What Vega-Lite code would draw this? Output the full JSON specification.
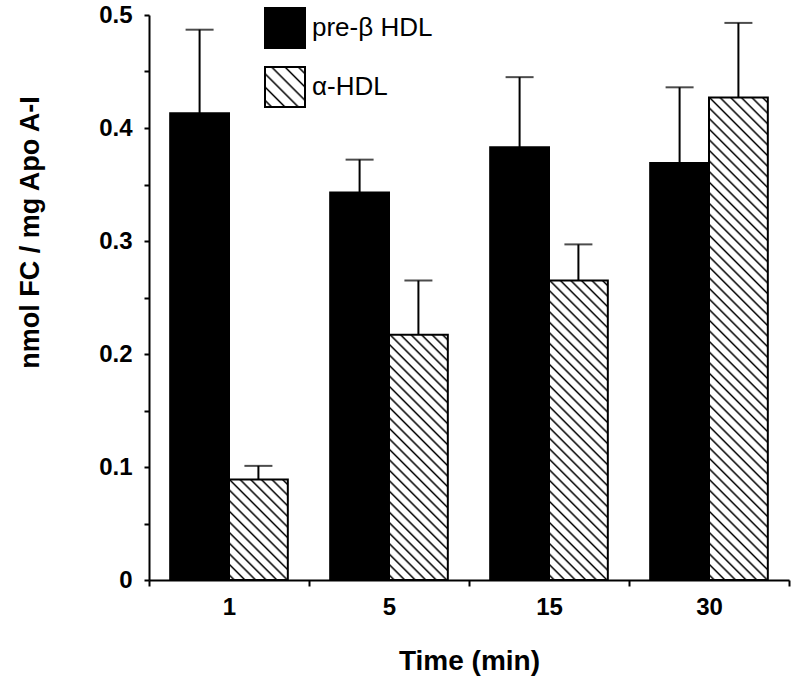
{
  "$schema": "https://vega.github.io/schema/vega-lite/v6.json",
  "width": 640,
  "height": 565,
  "autosize": "none",
  "padding": {"left": 149, "top": 15, "right": 8, "bottom": 113},
  "background": "white",
  "config": {
    "view": {"stroke": null},
    "font": "Liberation Sans",
    "axis": {"domainColor": "black", "tickColor": "black", "labelColor": "black", "titleColor": "black", "grid": false, "labelFont": "Liberation Sans", "titleFont": "Liberation Sans"}
  },
  "data": {
    "values": [
      {"time": "1", "group": "pre-β HDL", "value": 0.413, "upper": 0.487},
      {"time": "1", "group": "α-HDL", "value": 0.089, "upper": 0.101},
      {"time": "5", "group": "pre-β HDL", "value": 0.343, "upper": 0.372},
      {"time": "5", "group": "α-HDL", "value": 0.217, "upper": 0.265},
      {"time": "15", "group": "pre-β HDL", "value": 0.383, "upper": 0.445},
      {"time": "15", "group": "α-HDL", "value": 0.265, "upper": 0.297},
      {"time": "30", "group": "pre-β HDL", "value": 0.369, "upper": 0.436},
      {"time": "30", "group": "α-HDL", "value": 0.427, "upper": 0.493}
    ]
  },
  "encoding": {
    "x": {
      "field": "time", "type": "ordinal", "sort": ["1", "5", "15", "30"],
      "scale": {"paddingInner": 0, "paddingOuter": 0},
      "axis": {"title": "Time (min)", "labelAngle": 0, "labelFontSize": 24, "labelFontWeight": "bold", "titleFontSize": 28, "titleFontWeight": "bold", "tickBand": "extent", "tickSize": 6, "tickWidth": 2, "domainWidth": 2, "labelPadding": 9, "titlePadding": 28}
    },
    "xOffset": {"field": "group", "sort": ["pre-β HDL", "α-HDL"], "scale": {"paddingInner": 0, "paddingOuter": 0.36}}
  },
  "layer": [
    {
      "mark": {"type": "bar", "stroke": "black", "strokeWidth": 2},
      "encoding": {
        "y": {
          "field": "value", "type": "quantitative",
          "scale": {"domain": [0, 0.5], "nice": false, "zero": true},
          "axis": {"title": "nmol FC / mg Apo A-I", "values": [0, 0.05, 0.1, 0.15, 0.2, 0.25, 0.3, 0.35, 0.4, 0.45, 0.5], "labelExpr": "round(datum.value*100) % 10 == 0 ? (datum.value == 0 ? '0' : format(datum.value, '.1f')) : ''", "labelOverlap": false, "tickSize": 5, "tickWidth": 2, "domainWidth": 2, "labelFontSize": 24, "labelFontWeight": "bold", "labelPadding": 12, "titleFontSize": 27, "titleFontWeight": "bold", "titleX": -119, "titleY": 217, "titleAngle": -90, "titleAlign": "center", "titleBaseline": "middle"}
        },
        "fill": {
          "condition": [
            {"test": "datum.group == 'α-HDL' && datum.time == '1'", "value": {"gradient": "linear", "x1": 0, "y1": 1, "x2": 0.6903, "y2": -0.1811, "stops": [
              {"offset": 0.02, "color": "#fff"}, {"offset": 0.0333, "color": "#000"}, {"offset": 0.0466, "color": "#fff"},
              {"offset": 0.0867, "color": "#fff"}, {"offset": 0.1, "color": "#000"}, {"offset": 0.1133, "color": "#fff"},
              {"offset": 0.1534, "color": "#fff"}, {"offset": 0.1667, "color": "#000"}, {"offset": 0.18, "color": "#fff"},
              {"offset": 0.22, "color": "#fff"}, {"offset": 0.2333, "color": "#000"}, {"offset": 0.2466, "color": "#fff"},
              {"offset": 0.2867, "color": "#fff"}, {"offset": 0.3, "color": "#000"}, {"offset": 0.3133, "color": "#fff"},
              {"offset": 0.3534, "color": "#fff"}, {"offset": 0.3667, "color": "#000"}, {"offset": 0.38, "color": "#fff"},
              {"offset": 0.42, "color": "#fff"}, {"offset": 0.4333, "color": "#000"}, {"offset": 0.4466, "color": "#fff"},
              {"offset": 0.4867, "color": "#fff"}, {"offset": 0.5, "color": "#000"}, {"offset": 0.5133, "color": "#fff"},
              {"offset": 0.5534, "color": "#fff"}, {"offset": 0.5667, "color": "#000"}, {"offset": 0.58, "color": "#fff"},
              {"offset": 0.62, "color": "#fff"}, {"offset": 0.6333, "color": "#000"}, {"offset": 0.6466, "color": "#fff"},
              {"offset": 0.6867, "color": "#fff"}, {"offset": 0.7, "color": "#000"}, {"offset": 0.7133, "color": "#fff"},
              {"offset": 0.7534, "color": "#fff"}, {"offset": 0.7667, "color": "#000"}, {"offset": 0.78, "color": "#fff"},
              {"offset": 0.82, "color": "#fff"}, {"offset": 0.8333, "color": "#000"}, {"offset": 0.8466, "color": "#fff"},
              {"offset": 0.8867, "color": "#fff"}, {"offset": 0.9, "color": "#000"}, {"offset": 0.9133, "color": "#fff"},
              {"offset": 0.9534, "color": "#fff"}, {"offset": 0.9667, "color": "#000"}, {"offset": 0.98, "color": "#fff"}
            ]}},
            {"test": "datum.group == 'α-HDL' && datum.time == '5'", "value": {"gradient": "linear", "x1": 0, "y1": 1, "x2": 0.28115, "y2": -0.1724, "stops": [
              {"offset": 0.0102, "color": "#fff"}, {"offset": 0.0172, "color": "#000"}, {"offset": 0.0242, "color": "#fff"},
              {"offset": 0.0447, "color": "#fff"}, {"offset": 0.0517, "color": "#000"}, {"offset": 0.0587, "color": "#fff"},
              {"offset": 0.0792, "color": "#fff"}, {"offset": 0.0862, "color": "#000"}, {"offset": 0.0932, "color": "#fff"},
              {"offset": 0.1137, "color": "#fff"}, {"offset": 0.1207, "color": "#000"}, {"offset": 0.1277, "color": "#fff"},
              {"offset": 0.1482, "color": "#fff"}, {"offset": 0.1552, "color": "#000"}, {"offset": 0.1622, "color": "#fff"},
              {"offset": 0.1827, "color": "#fff"}, {"offset": 0.1897, "color": "#000"}, {"offset": 0.1967, "color": "#fff"},
              {"offset": 0.2171, "color": "#fff"}, {"offset": 0.2241, "color": "#000"}, {"offset": 0.2311, "color": "#fff"},
              {"offset": 0.2516, "color": "#fff"}, {"offset": 0.2586, "color": "#000"}, {"offset": 0.2656, "color": "#fff"},
              {"offset": 0.2861, "color": "#fff"}, {"offset": 0.2931, "color": "#000"}, {"offset": 0.3001, "color": "#fff"},
              {"offset": 0.3206, "color": "#fff"}, {"offset": 0.3276, "color": "#000"}, {"offset": 0.3346, "color": "#fff"},
              {"offset": 0.3551, "color": "#fff"}, {"offset": 0.3621, "color": "#000"}, {"offset": 0.3691, "color": "#fff"},
              {"offset": 0.3896, "color": "#fff"}, {"offset": 0.3966, "color": "#000"}, {"offset": 0.4036, "color": "#fff"},
              {"offset": 0.424, "color": "#fff"}, {"offset": 0.431, "color": "#000"}, {"offset": 0.438, "color": "#fff"},
              {"offset": 0.4585, "color": "#fff"}, {"offset": 0.4655, "color": "#000"}, {"offset": 0.4725, "color": "#fff"},
              {"offset": 0.493, "color": "#fff"}, {"offset": 0.5, "color": "#000"}, {"offset": 0.507, "color": "#fff"},
              {"offset": 0.5275, "color": "#fff"}, {"offset": 0.5345, "color": "#000"}, {"offset": 0.5415, "color": "#fff"},
              {"offset": 0.562, "color": "#fff"}, {"offset": 0.569, "color": "#000"}, {"offset": 0.576, "color": "#fff"},
              {"offset": 0.5965, "color": "#fff"}, {"offset": 0.6035, "color": "#000"}, {"offset": 0.6105, "color": "#fff"},
              {"offset": 0.6309, "color": "#fff"}, {"offset": 0.6379, "color": "#000"}, {"offset": 0.6449, "color": "#fff"},
              {"offset": 0.6654, "color": "#fff"}, {"offset": 0.6724, "color": "#000"}, {"offset": 0.6794, "color": "#fff"},
              {"offset": 0.6999, "color": "#fff"}, {"offset": 0.7069, "color": "#000"}, {"offset": 0.7139, "color": "#fff"},
              {"offset": 0.7344, "color": "#fff"}, {"offset": 0.7414, "color": "#000"}, {"offset": 0.7484, "color": "#fff"},
              {"offset": 0.7689, "color": "#fff"}, {"offset": 0.7759, "color": "#000"}, {"offset": 0.7829, "color": "#fff"},
              {"offset": 0.8033, "color": "#fff"}, {"offset": 0.8103, "color": "#000"}, {"offset": 0.8173, "color": "#fff"},
              {"offset": 0.8378, "color": "#fff"}, {"offset": 0.8448, "color": "#000"}, {"offset": 0.8518, "color": "#fff"},
              {"offset": 0.8723, "color": "#fff"}, {"offset": 0.8793, "color": "#000"}, {"offset": 0.8863, "color": "#fff"},
              {"offset": 0.9068, "color": "#fff"}, {"offset": 0.9138, "color": "#000"}, {"offset": 0.9208, "color": "#fff"},
              {"offset": 0.9413, "color": "#fff"}, {"offset": 0.9483, "color": "#000"}, {"offset": 0.9553, "color": "#fff"},
              {"offset": 0.9758, "color": "#fff"}, {"offset": 0.9828, "color": "#000"}, {"offset": 0.9898, "color": "#fff"}
            ]}},
            {"test": "datum.group == 'α-HDL' && datum.time == '15'", "value": {"gradient": "linear", "x1": 0, "y1": 1, "x2": 0.22616, "y2": -0.15194, "stops": [
              {"offset": 0.0088, "color": "#fff"}, {"offset": 0.0147, "color": "#000"}, {"offset": 0.0206, "color": "#fff"},
              {"offset": 0.0382, "color": "#fff"}, {"offset": 0.0441, "color": "#000"}, {"offset": 0.05, "color": "#fff"},
              {"offset": 0.0676, "color": "#fff"}, {"offset": 0.0735, "color": "#000"}, {"offset": 0.0794, "color": "#fff"},
              {"offset": 0.097, "color": "#fff"}, {"offset": 0.1029, "color": "#000"}, {"offset": 0.1088, "color": "#fff"},
              {"offset": 0.1264, "color": "#fff"}, {"offset": 0.1323, "color": "#000"}, {"offset": 0.1382, "color": "#fff"},
              {"offset": 0.1558, "color": "#fff"}, {"offset": 0.1617, "color": "#000"}, {"offset": 0.1676, "color": "#fff"},
              {"offset": 0.1853, "color": "#fff"}, {"offset": 0.1912, "color": "#000"}, {"offset": 0.1971, "color": "#fff"},
              {"offset": 0.2147, "color": "#fff"}, {"offset": 0.2206, "color": "#000"}, {"offset": 0.2265, "color": "#fff"},
              {"offset": 0.2441, "color": "#fff"}, {"offset": 0.25, "color": "#000"}, {"offset": 0.2559, "color": "#fff"},
              {"offset": 0.2735, "color": "#fff"}, {"offset": 0.2794, "color": "#000"}, {"offset": 0.2853, "color": "#fff"},
              {"offset": 0.3029, "color": "#fff"}, {"offset": 0.3088, "color": "#000"}, {"offset": 0.3147, "color": "#fff"},
              {"offset": 0.3323, "color": "#fff"}, {"offset": 0.3382, "color": "#000"}, {"offset": 0.3441, "color": "#fff"},
              {"offset": 0.3618, "color": "#fff"}, {"offset": 0.3677, "color": "#000"}, {"offset": 0.3736, "color": "#fff"},
              {"offset": 0.3912, "color": "#fff"}, {"offset": 0.3971, "color": "#000"}, {"offset": 0.403, "color": "#fff"},
              {"offset": 0.4206, "color": "#fff"}, {"offset": 0.4265, "color": "#000"}, {"offset": 0.4324, "color": "#fff"},
              {"offset": 0.45, "color": "#fff"}, {"offset": 0.4559, "color": "#000"}, {"offset": 0.4618, "color": "#fff"},
              {"offset": 0.4794, "color": "#fff"}, {"offset": 0.4853, "color": "#000"}, {"offset": 0.4912, "color": "#fff"},
              {"offset": 0.5088, "color": "#fff"}, {"offset": 0.5147, "color": "#000"}, {"offset": 0.5206, "color": "#fff"},
              {"offset": 0.5382, "color": "#fff"}, {"offset": 0.5441, "color": "#000"}, {"offset": 0.55, "color": "#fff"},
              {"offset": 0.5676, "color": "#fff"}, {"offset": 0.5735, "color": "#000"}, {"offset": 0.5794, "color": "#fff"},
              {"offset": 0.597, "color": "#fff"}, {"offset": 0.6029, "color": "#000"}, {"offset": 0.6088, "color": "#fff"},
              {"offset": 0.6265, "color": "#fff"}, {"offset": 0.6324, "color": "#000"}, {"offset": 0.6383, "color": "#fff"},
              {"offset": 0.6559, "color": "#fff"}, {"offset": 0.6618, "color": "#000"}, {"offset": 0.6677, "color": "#fff"},
              {"offset": 0.6853, "color": "#fff"}, {"offset": 0.6912, "color": "#000"}, {"offset": 0.6971, "color": "#fff"},
              {"offset": 0.7147, "color": "#fff"}, {"offset": 0.7206, "color": "#000"}, {"offset": 0.7265, "color": "#fff"},
              {"offset": 0.7441, "color": "#fff"}, {"offset": 0.75, "color": "#000"}, {"offset": 0.7559, "color": "#fff"},
              {"offset": 0.7735, "color": "#fff"}, {"offset": 0.7794, "color": "#000"}, {"offset": 0.7853, "color": "#fff"},
              {"offset": 0.8029, "color": "#fff"}, {"offset": 0.8088, "color": "#000"}, {"offset": 0.8147, "color": "#fff"},
              {"offset": 0.8323, "color": "#fff"}, {"offset": 0.8382, "color": "#000"}, {"offset": 0.8441, "color": "#fff"},
              {"offset": 0.8618, "color": "#fff"}, {"offset": 0.8677, "color": "#000"}, {"offset": 0.8736, "color": "#fff"},
              {"offset": 0.8912, "color": "#fff"}, {"offset": 0.8971, "color": "#000"}, {"offset": 0.903, "color": "#fff"},
              {"offset": 0.9206, "color": "#fff"}, {"offset": 0.9265, "color": "#000"}, {"offset": 0.9324, "color": "#fff"},
              {"offset": 0.95, "color": "#fff"}, {"offset": 0.9559, "color": "#000"}, {"offset": 0.9618, "color": "#fff"},
              {"offset": 0.9794, "color": "#fff"}, {"offset": 0.9853, "color": "#000"}, {"offset": 0.9912, "color": "#fff"}
            ]}},
            {"test": "datum.group == 'α-HDL' && datum.time == '30'", "value": {"gradient": "linear", "x1": 0, "y1": 1, "x2": 0.13472, "y2": -0.10545, "stops": [
              {"offset": 0.0059, "color": "#fff"}, {"offset": 0.0098, "color": "#000"}, {"offset": 0.0137, "color": "#fff"},
              {"offset": 0.0255, "color": "#fff"}, {"offset": 0.0294, "color": "#000"}, {"offset": 0.0333, "color": "#fff"},
              {"offset": 0.0451, "color": "#fff"}, {"offset": 0.049, "color": "#000"}, {"offset": 0.0529, "color": "#fff"},
              {"offset": 0.0647, "color": "#fff"}, {"offset": 0.0686, "color": "#000"}, {"offset": 0.0725, "color": "#fff"},
              {"offset": 0.0843, "color": "#fff"}, {"offset": 0.0882, "color": "#000"}, {"offset": 0.0921, "color": "#fff"},
              {"offset": 0.1039, "color": "#fff"}, {"offset": 0.1078, "color": "#000"}, {"offset": 0.1117, "color": "#fff"},
              {"offset": 0.1235, "color": "#fff"}, {"offset": 0.1274, "color": "#000"}, {"offset": 0.1313, "color": "#fff"},
              {"offset": 0.1431, "color": "#fff"}, {"offset": 0.147, "color": "#000"}, {"offset": 0.1509, "color": "#fff"},
              {"offset": 0.1628, "color": "#fff"}, {"offset": 0.1667, "color": "#000"}, {"offset": 0.1706, "color": "#fff"},
              {"offset": 0.1824, "color": "#fff"}, {"offset": 0.1863, "color": "#000"}, {"offset": 0.1902, "color": "#fff"},
              {"offset": 0.202, "color": "#fff"}, {"offset": 0.2059, "color": "#000"}, {"offset": 0.2098, "color": "#fff"},
              {"offset": 0.2216, "color": "#fff"}, {"offset": 0.2255, "color": "#000"}, {"offset": 0.2294, "color": "#fff"},
              {"offset": 0.2412, "color": "#fff"}, {"offset": 0.2451, "color": "#000"}, {"offset": 0.249, "color": "#fff"},
              {"offset": 0.2608, "color": "#fff"}, {"offset": 0.2647, "color": "#000"}, {"offset": 0.2686, "color": "#fff"},
              {"offset": 0.2804, "color": "#fff"}, {"offset": 0.2843, "color": "#000"}, {"offset": 0.2882, "color": "#fff"},
              {"offset": 0.3, "color": "#fff"}, {"offset": 0.3039, "color": "#000"}, {"offset": 0.3078, "color": "#fff"},
              {"offset": 0.3196, "color": "#fff"}, {"offset": 0.3235, "color": "#000"}, {"offset": 0.3274, "color": "#fff"},
              {"offset": 0.3392, "color": "#fff"}, {"offset": 0.3431, "color": "#000"}, {"offset": 0.347, "color": "#fff"},
              {"offset": 0.3588, "color": "#fff"}, {"offset": 0.3627, "color": "#000"}, {"offset": 0.3666, "color": "#fff"},
              {"offset": 0.3785, "color": "#fff"}, {"offset": 0.3824, "color": "#000"}, {"offset": 0.3863, "color": "#fff"},
              {"offset": 0.3981, "color": "#fff"}, {"offset": 0.402, "color": "#000"}, {"offset": 0.4059, "color": "#fff"},
              {"offset": 0.4177, "color": "#fff"}, {"offset": 0.4216, "color": "#000"}, {"offset": 0.4255, "color": "#fff"},
              {"offset": 0.4373, "color": "#fff"}, {"offset": 0.4412, "color": "#000"}, {"offset": 0.4451, "color": "#fff"},
              {"offset": 0.4569, "color": "#fff"}, {"offset": 0.4608, "color": "#000"}, {"offset": 0.4647, "color": "#fff"},
              {"offset": 0.4765, "color": "#fff"}, {"offset": 0.4804, "color": "#000"}, {"offset": 0.4843, "color": "#fff"},
              {"offset": 0.4961, "color": "#fff"}, {"offset": 0.5, "color": "#000"}, {"offset": 0.5039, "color": "#fff"},
              {"offset": 0.5157, "color": "#fff"}, {"offset": 0.5196, "color": "#000"}, {"offset": 0.5235, "color": "#fff"},
              {"offset": 0.5353, "color": "#fff"}, {"offset": 0.5392, "color": "#000"}, {"offset": 0.5431, "color": "#fff"},
              {"offset": 0.5549, "color": "#fff"}, {"offset": 0.5588, "color": "#000"}, {"offset": 0.5627, "color": "#fff"},
              {"offset": 0.5745, "color": "#fff"}, {"offset": 0.5784, "color": "#000"}, {"offset": 0.5823, "color": "#fff"},
              {"offset": 0.5941, "color": "#fff"}, {"offset": 0.598, "color": "#000"}, {"offset": 0.6019, "color": "#fff"},
              {"offset": 0.6137, "color": "#fff"}, {"offset": 0.6176, "color": "#000"}, {"offset": 0.6215, "color": "#fff"},
              {"offset": 0.6334, "color": "#fff"}, {"offset": 0.6373, "color": "#000"}, {"offset": 0.6412, "color": "#fff"},
              {"offset": 0.653, "color": "#fff"}, {"offset": 0.6569, "color": "#000"}, {"offset": 0.6608, "color": "#fff"},
              {"offset": 0.6726, "color": "#fff"}, {"offset": 0.6765, "color": "#000"}, {"offset": 0.6804, "color": "#fff"},
              {"offset": 0.6922, "color": "#fff"}, {"offset": 0.6961, "color": "#000"}, {"offset": 0.7, "color": "#fff"},
              {"offset": 0.7118, "color": "#fff"}, {"offset": 0.7157, "color": "#000"}, {"offset": 0.7196, "color": "#fff"},
              {"offset": 0.7314, "color": "#fff"}, {"offset": 0.7353, "color": "#000"}, {"offset": 0.7392, "color": "#fff"},
              {"offset": 0.751, "color": "#fff"}, {"offset": 0.7549, "color": "#000"}, {"offset": 0.7588, "color": "#fff"},
              {"offset": 0.7706, "color": "#fff"}, {"offset": 0.7745, "color": "#000"}, {"offset": 0.7784, "color": "#fff"},
              {"offset": 0.7902, "color": "#fff"}, {"offset": 0.7941, "color": "#000"}, {"offset": 0.798, "color": "#fff"},
              {"offset": 0.8098, "color": "#fff"}, {"offset": 0.8137, "color": "#000"}, {"offset": 0.8176, "color": "#fff"},
              {"offset": 0.8294, "color": "#fff"}, {"offset": 0.8333, "color": "#000"}, {"offset": 0.8372, "color": "#fff"},
              {"offset": 0.849, "color": "#fff"}, {"offset": 0.8529, "color": "#000"}, {"offset": 0.8568, "color": "#fff"},
              {"offset": 0.8686, "color": "#fff"}, {"offset": 0.8725, "color": "#000"}, {"offset": 0.8764, "color": "#fff"},
              {"offset": 0.8883, "color": "#fff"}, {"offset": 0.8922, "color": "#000"}, {"offset": 0.8961, "color": "#fff"},
              {"offset": 0.9079, "color": "#fff"}, {"offset": 0.9118, "color": "#000"}, {"offset": 0.9157, "color": "#fff"},
              {"offset": 0.9275, "color": "#fff"}, {"offset": 0.9314, "color": "#000"}, {"offset": 0.9353, "color": "#fff"},
              {"offset": 0.9471, "color": "#fff"}, {"offset": 0.951, "color": "#000"}, {"offset": 0.9549, "color": "#fff"},
              {"offset": 0.9667, "color": "#fff"}, {"offset": 0.9706, "color": "#000"}, {"offset": 0.9745, "color": "#fff"},
              {"offset": 0.9863, "color": "#fff"}, {"offset": 0.9902, "color": "#000"}, {"offset": 0.9941, "color": "#fff"}
            ]}}
          ],
          "field": "group",
          "type": "nominal",
          "scale": {
            "domain": ["pre-β HDL", "α-HDL"],
            "range": ["#000", {"expr": "{gradient:'linear',x1:0,y1:1,x2:1,y2:0,stops:[{offset:0.0568,color:'#fff'},{offset:0.0833,color:'#000'},{offset:0.1098,color:'#fff'},{offset:0.2235,color:'#fff'},{offset:0.25,color:'#000'},{offset:0.2765,color:'#fff'},{offset:0.3902,color:'#fff'},{offset:0.4167,color:'#000'},{offset:0.4432,color:'#fff'},{offset:0.5568,color:'#fff'},{offset:0.5833,color:'#000'},{offset:0.6098,color:'#fff'},{offset:0.7235,color:'#fff'},{offset:0.75,color:'#000'},{offset:0.7765,color:'#fff'},{offset:0.8902,color:'#fff'},{offset:0.9167,color:'#000'},{offset:0.9432,color:'#fff'}]}"}]
          },
          "legend": {"title": null, "orient": "none", "legendX": 115, "legendY": -8, "symbolType": "square", "symbolSize": 1600, "symbolStrokeColor": "black", "symbolStrokeWidth": 2, "labelFontSize": 26, "labelFont": "Liberation Sans", "labelColor": "black", "labelOffset": 6, "rowPadding": 11, "padding": 0}
        }
      }
    },
    {
      "mark": {"type": "rule", "strokeWidth": 2, "color": "black"},
      "encoding": {
        "y": {"field": "value", "type": "quantitative", "title": "nmol FC / mg Apo A-I"},
        "y2": {"field": "upper"}
      }
    },
    {
      "mark": {"type": "tick", "size": 28, "thickness": 2, "color": "black"},
      "encoding": {
        "y": {"field": "upper", "type": "quantitative", "title": "nmol FC / mg Apo A-I"}
      }
    }
  ]
}
